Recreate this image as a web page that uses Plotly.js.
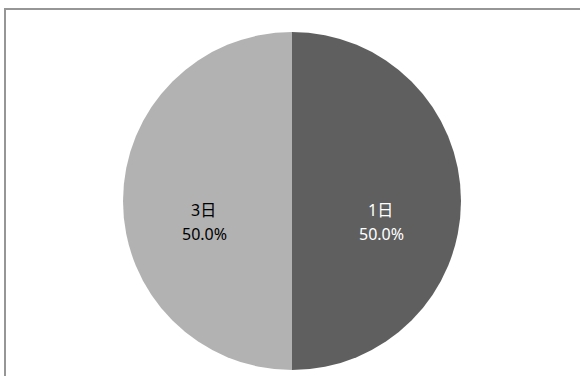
<!DOCTYPE html>
<html>
<head>
<meta charset="utf-8">
<script src="https://cdn.plot.ly/plotly-3.0.1.min.js"></script>
<style>html,body{margin:0;padding:0;background:#fff;}#chart{width:580px;height:376px;}</style>
</head>
<body>
<div id="chart"></div>
<script>
const categories = ['1日', '3日'];
const values = [1, 1];
const colors = ['#5f5f5f', '#b2b2b2'];
const textColors = ['#ffffff', '#000000'];

const W = 580, H = 376;
const cx = 292, cy = 201, R = 169;

const trace = {
  type: 'pie',
  labels: categories,
  values: values,
  sort: false,
  direction: 'clockwise',
  rotation: 0,
  marker: {colors: colors, line: {width: 0}},
  textinfo: 'none',
  hoverinfo: 'none',
  showlegend: false,
  domain: {x: [(cx - R)/W, (cx + R)/W], y: [(H - cy - R)/H, (H - cy + R)/H]}
};

// label annotations derived from the data (mid-angle of each slice)
const total = values.reduce((a, b) => a + b, 0);
const annotations = [];
let cum = 0;
const font = {family: '"Noto Sans", "Noto Sans CJK JP", sans-serif', size: 16};
values.forEach((v, i) => {
  const mid = (cum + v / 2) / total * 2 * Math.PI;
  cum += v;
  const dx = Math.sin(mid) * R * 0.525;
  const dy = Math.cos(mid) * R * 0.525;
  const pct = (v / total * 100).toFixed(1) + '%';
  const base = {xref: 'paper', yref: 'paper', x: cx / W, y: (H - cy) / H,
    showarrow: false, xanchor: 'center', yanchor: 'middle',
    font: Object.assign({}, font, {color: textColors[i]})};
  annotations.push(Object.assign({}, base, {text: categories[i], xshift: dx, yshift: dy - 9}));
  annotations.push(Object.assign({}, base, {text: pct, xshift: dx + 1, yshift: dy - 33}));
});

const layout = {
  width: W, height: H,
  margin: {l: 0, r: 0, t: 0, b: 0},
  paper_bgcolor: '#ffffff',
  showlegend: false,
  annotations: annotations,
  shapes: [{
    type: 'rect', xref: 'paper', yref: 'paper',
    x0: 5/W, x1: 1.05, y0: -0.05, y1: (H - 9)/H,
    line: {color: '#969696', width: 2}, fillcolor: 'rgba(0,0,0,0)'
  }]
};

Plotly.newPlot('chart', [trace], layout, {displayModeBar: false, staticPlot: true});
</script>
</body>
</html>
